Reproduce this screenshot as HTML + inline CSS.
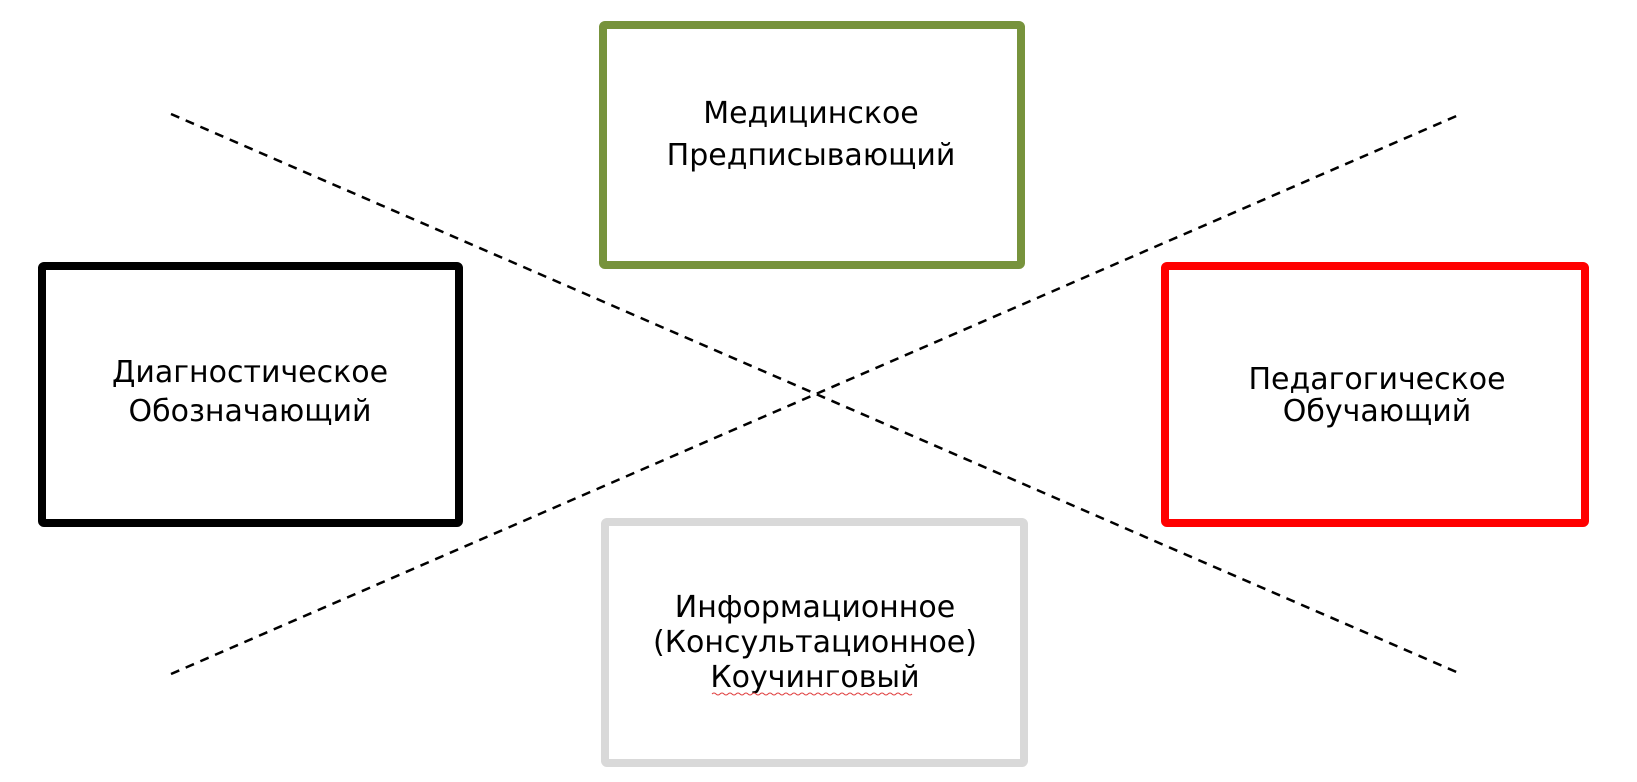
<!DOCTYPE html>
<html><head><meta charset="utf-8"><style>
html,body{margin:0;padding:0;background:#fff;}
svg{display:block;}
text{font-family:"DejaVu Sans","Liberation Sans",sans-serif;font-size:30px;fill:#000;}
</style></head><body>
<svg width="1637" height="782" viewBox="0 0 1637 782" xmlns="http://www.w3.org/2000/svg">
<line x1="171" y1="114" x2="1461" y2="674" stroke="#000" stroke-width="2.5" stroke-dasharray="9,7"/>
<line x1="171" y1="674" x2="1461" y2="114" stroke="#000" stroke-width="2.5" stroke-dasharray="9,7"/>
<rect x="603" y="25" width="418" height="240" fill="#fff" stroke="#77933c" stroke-width="8" rx="2"/>
<rect x="42" y="266" width="417" height="257" fill="#fff" stroke="#000" stroke-width="8" rx="2"/>
<rect x="1165" y="266" width="420" height="257" fill="#fff" stroke="#ff0000" stroke-width="8" rx="2"/>
<rect x="605" y="522" width="419" height="241" fill="#fff" stroke="#d9d9d9" stroke-width="8" rx="2"/>
<text x="811" y="123" text-anchor="middle">Медицинское</text>
<text x="811" y="165" text-anchor="middle">Предписывающий</text>
<text x="250" y="382" text-anchor="middle">Диагностическое</text>
<text x="250" y="421" text-anchor="middle">Обозначающий</text>
<text x="1377" y="389" text-anchor="middle">Педагогическое</text>
<text x="1377" y="421" text-anchor="middle">Обучающий</text>
<text x="815" y="617" text-anchor="middle">Информационное</text>
<text x="815" y="652" text-anchor="middle">(Консультационное)</text>
<text x="815" y="687" text-anchor="middle">Коучинговый</text>
<path d="M712 694 q2 -2 4 0 t4 0 t4 0 t4 0 t4 0 t4 0 t4 0 t4 0 t4 0 t4 0 t4 0 t4 0 t4 0 t4 0 t4 0 t4 0 t4 0 t4 0 t4 0 t4 0 t4 0 t4 0 t4 0 t4 0 t4 0 t4 0 t4 0 t4 0 t4 0 t4 0 t4 0 t4 0 t4 0 t4 0 t4 0 t4 0 t4 0 t4 0 t4 0 t4 0 t4 0 t4 0 t4 0 t4 0 t4 0 t4 0 t4 0 t4 0 t4 0 t4 0" fill="none" stroke="#e04040" stroke-width="1"/>
</svg>
</body></html>
